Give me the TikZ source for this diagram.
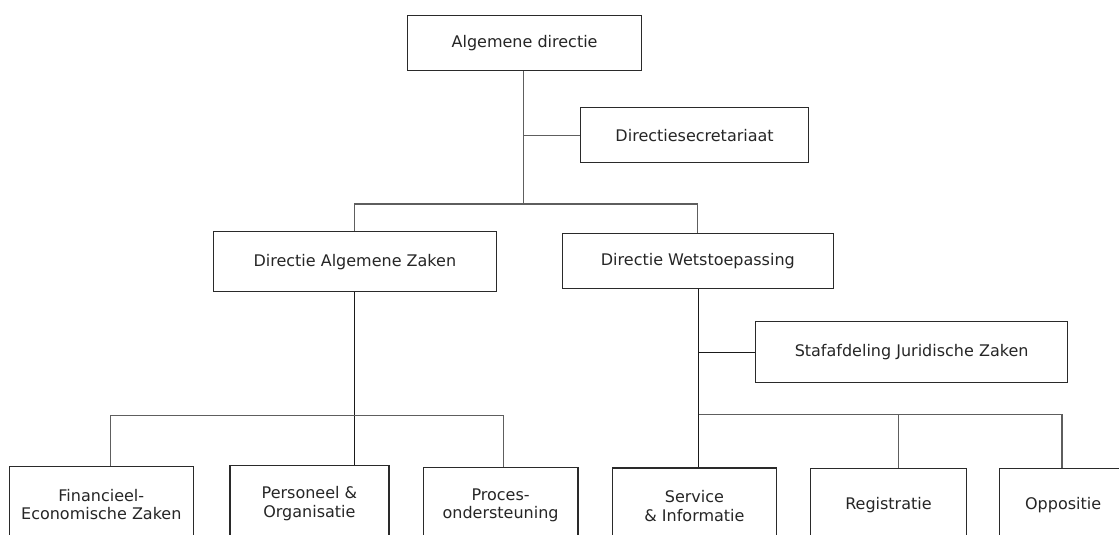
\documentclass[tikz,border=0pt]{standalone}
\usepackage{fontspec}
\setmainfont{DejaVu Sans}
\begin{document}
\begin{tikzpicture}[x=1pt,y=-1pt,
  box/.style={draw=boxc, line width=1.2pt, fill=white, anchor=north west, inner sep=0pt,
    align=center, text=txtc, font=\fontsize{16}{18.5}\selectfont},
  link/.style={draw=linec, line width=1.2pt},
  darklink/.style={draw=darkc, line width=1.2pt}]
\definecolor{boxc}{HTML}{2A2A2A}
\definecolor{linec}{HTML}{5E5E5E}
\definecolor{darkc}{HTML}{1A1A1A}
\definecolor{txtc}{HTML}{262626}
\useasboundingbox (0,0) rectangle (1119,535);
\clip (0,0) rectangle (1119,535);
% nodes
\node[box, minimum width=234pt, minimum height=55pt] (ad) at (407,15) {Algemene directie};
\node[box, minimum width=228pt, minimum height=55pt] (ds) at (580,107) {Directiesecretariaat};
\node[box, minimum width=283.5pt, minimum height=60pt] (daz) at (212.5,231) {Directie Algemene Zaken};
\node[box, minimum width=270.5pt, minimum height=55pt] (dw) at (562,233) {Directie Wetstoepassing};
\node[box, minimum width=312pt, minimum height=61pt] (staf) at (755,321) {Stafafdeling Juridische Zaken};
\node[box, minimum width=184pt, minimum height=76pt] (fez) at (8.7,466) {Financieel-\\Economische Zaken};
\node[box, minimum width=159pt, minimum height=76pt] (po) at (229.3,465) {Personeel \&\\Organisatie};
\node[box, minimum width=154.6pt, minimum height=76pt] (pro) at (422.7,466.7) {Proces-\\ondersteuning};
\node[box, minimum width=163.7pt, minimum height=76pt] (si) at (612,467.3) {Service\\\& Informatie};
\node[box, minimum width=155.7pt, minimum height=74pt] (reg) at (810,467.7) {Registratie};
\node[box, minimum width=127pt, minimum height=74pt] (opp) at (999,467.7) {Oppositie};
% junctions
\coordinate (j1) at (523.5,204);
\coordinate (j2) at (354.3,415.5);
\coordinate (j2l) at (110.7,415.5);
\coordinate (j2r) at (503.3,415.5);
\coordinate (j3) at (698.7,414.5);
\coordinate (j3m) at (898.3,414.5);
\coordinate (j3r) at (1062,414.5);
% connectors
\draw[link] (ad.south -| j1) -- (j1);
\draw[link] (ds.west) -- (ds.west -| j1);
\draw[link] (daz.north -| 354.5,0) |- (j1) -| (dw.north -| 697.5,0);
\draw[darklink] (daz.south -| j2) -- (po.north -| j2);
\draw[link] (fez.north -| j2l) -- (j2l) -- (j2r) -- (pro.north -| j2r);
\draw[darklink] (dw.south -| j3) -- (si.north -| j3);
\draw[darklink] (staf.west) -- (staf.west -| j3);
\draw[link] (j3) -- (j3r) -- (opp.north -| j3r);
\draw[link] (j3m) -- (reg.north -| j3m);
\end{tikzpicture}
\end{document}
